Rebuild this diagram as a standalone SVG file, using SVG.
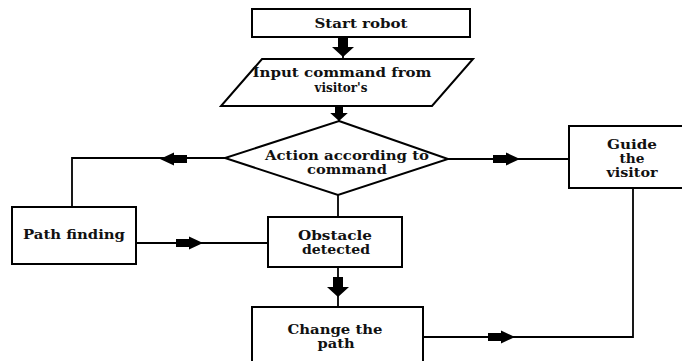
<svg xmlns="http://www.w3.org/2000/svg" xmlns:xlink="http://www.w3.org/1999/xlink" width="682" height="361" viewBox="0 0 682 361">
<defs>
<style>
.box{fill:#fff;stroke:#000;stroke-width:2}
.ln{fill:none;stroke:#000;stroke-width:1.8}
.t{font-family:"DejaVu Serif","Liberation Serif",serif;font-weight:bold;font-size:12px;fill:#111;text-anchor:middle}
</style>
<path id="ah" d="M-27,-4 L-14,-4 L-14,-6.5 L0,0 L-14,6.5 L-14,4 L-27,4 Z" fill="#000"/>
<path id="av" d="M-5,-20 L5,-20 L5,-10 L11,-10 L0,0 L-11,-10 L-5,-10 Z" fill="#000"/>
</defs>
<rect width="682" height="361" fill="#fff"/>
<g id="connectors">
<path class="ln" d="M343,37 V59"/>
<path class="ln" d="M339,106 V121"/>
<path class="ln" d="M225,158 H72 V207"/>
<path class="ln" d="M448,159 H569"/>
<path class="ln" d="M338,195 V217"/>
<path class="ln" d="M136,243 H268"/>
<path class="ln" d="M338,267 V307"/>
<path class="ln" d="M423,337 H633 V188"/>
<use xlink:href="#av" transform="translate(343,57)"/>
<use xlink:href="#av" transform="translate(339,121) scale(0.8,0.8)"/>
<use xlink:href="#ah" transform="translate(160,159) scale(-1,1)"/>
<use xlink:href="#ah" transform="translate(520,159)"/>
<use xlink:href="#ah" transform="translate(203,243)"/>
<use xlink:href="#ah" transform="translate(515,337)"/>
<use xlink:href="#av" transform="translate(338,297)"/>
</g>
<g id="start">
<rect class="box" x="252" y="9" width="218" height="28"/>
<text class="t" x="361" y="28" textLength="93" lengthAdjust="spacingAndGlyphs">Start robot</text>
</g>
<g id="input">
<polygon class="box" points="262,59 473,59 432,106 221,106"/>
<text class="t" x="342" y="77" textLength="179" lengthAdjust="spacingAndGlyphs">Input command from</text>
<text class="t" x="341" y="92" textLength="53" lengthAdjust="spacingAndGlyphs">visitor's</text>
</g>
<g id="decision">
<polygon class="box" points="339,121 448,159 338,195 225,158"/>
<text class="t" x="347" y="160" textLength="164" lengthAdjust="spacingAndGlyphs">Action according to</text>
<text class="t" x="347" y="174" textLength="80" lengthAdjust="spacingAndGlyphs">command</text>
</g>
<g id="pathfinding">
<rect class="box" x="12" y="207" width="124" height="57"/>
<text class="t" x="74" y="239" textLength="102" lengthAdjust="spacingAndGlyphs">Path finding</text>
</g>
<g id="obstacle">
<rect class="box" x="268" y="217" width="134" height="50"/>
<text class="t" x="335" y="240" textLength="74" lengthAdjust="spacingAndGlyphs">Obstacle</text>
<text class="t" x="336" y="254" textLength="68" lengthAdjust="spacingAndGlyphs">detected</text>
</g>
<g id="guide">
<rect class="box" x="569" y="126" width="125" height="62"/>
<text class="t" x="632" y="149" textLength="50" lengthAdjust="spacingAndGlyphs">Guide</text>
<text class="t" x="632" y="163" textLength="25" lengthAdjust="spacingAndGlyphs">the</text>
<text class="t" x="632" y="177" textLength="51" lengthAdjust="spacingAndGlyphs">visitor</text>
</g>
<g id="change">
<rect class="box" x="252" y="307" width="171" height="66"/>
<text class="t" x="335" y="334" textLength="95" lengthAdjust="spacingAndGlyphs">Change the</text>
<text class="t" x="336" y="348" textLength="37" lengthAdjust="spacingAndGlyphs">path</text>
</g>
</svg>
